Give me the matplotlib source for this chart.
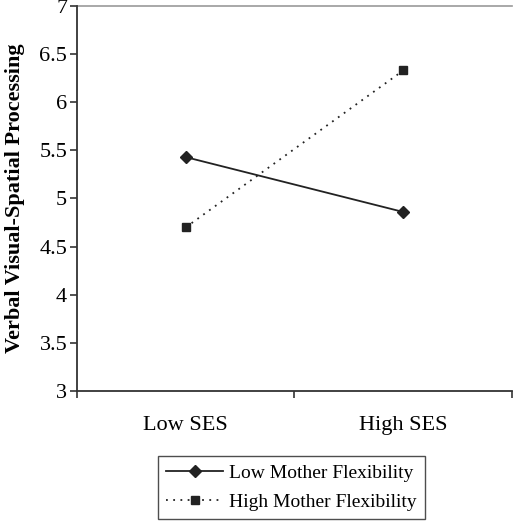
import matplotlib
matplotlib.use("Agg")
import matplotlib.pyplot as plt

plt.rcParams['font.family'] = ['Liberation Serif', 'DejaVu Serif']

categories = ['Low SES', 'High SES']
low_flex = [5.43, 4.86]
high_flex = [4.70, 6.33]
yticks = [3, 3.5, 4, 4.5, 5, 5.5, 6, 6.5, 7]
ytick_labels = ['3', '3.5', '4', '4.5', '5', '5.5', '6', '6.5', '7']

fig = plt.figure(figsize=(5.13, 5.22), dpi=100)
ax = fig.add_axes([0.150, 0.251, 0.848, 0.7375])

xpos = [i + 0.5 for i in range(len(categories))]
ax.plot(xpos, low_flex, color='#222222', lw=1.3, marker='D', ms=6,
        label='Low Mother Flexibility')
ax.plot(xpos, high_flex, color='#222222', lw=1.3, ls=(0, (1, 3)), marker='s', ms=6,
        label='High Mother Flexibility')

ax.set_xlim(0, 2)
ax.set_ylim(3, 7)
ax.axhline(7, color='#999999', lw=1.2, clip_on=False)

ax.set_yticks(yticks)
ax.set_yticklabels(ytick_labels, fontsize=16)
ax.set_xticks([0, 1, 2])
ax.set_xticklabels([])
ax.set_xticks(xpos, minor=True)
ax.set_xticklabels(categories, minor=True, fontsize=16)
ax.tick_params(axis='x', which='minor', length=0, pad=18)
ax.tick_params(axis='x', which='major', length=5, width=1.2, direction='out', color='#333333')
ax.tick_params(axis='y', length=5, width=1.2, direction='out', pad=2, color='#333333')

for side in ['top', 'right']:
    ax.spines[side].set_visible(False)
for side in ['left', 'bottom']:
    ax.spines[side].set_linewidth(1.3)
    ax.spines[side].set_color('#333333')

ax.set_ylabel('Verbal Visual-Spatial Processing', fontsize=16, fontweight='bold')
ax.yaxis.set_label_coords(-0.12, 0.5)

leg = fig.legend(loc='center', bbox_to_anchor=(0.568, 0.066), fontsize=14,
                 frameon=True, fancybox=False, edgecolor='#222222', handlelength=2.9,
                 borderpad=0.45, labelspacing=0.55, handletextpad=0.3)
leg.get_frame().set_linewidth(1.0)

fig.savefig('out.png', dpi=100)
